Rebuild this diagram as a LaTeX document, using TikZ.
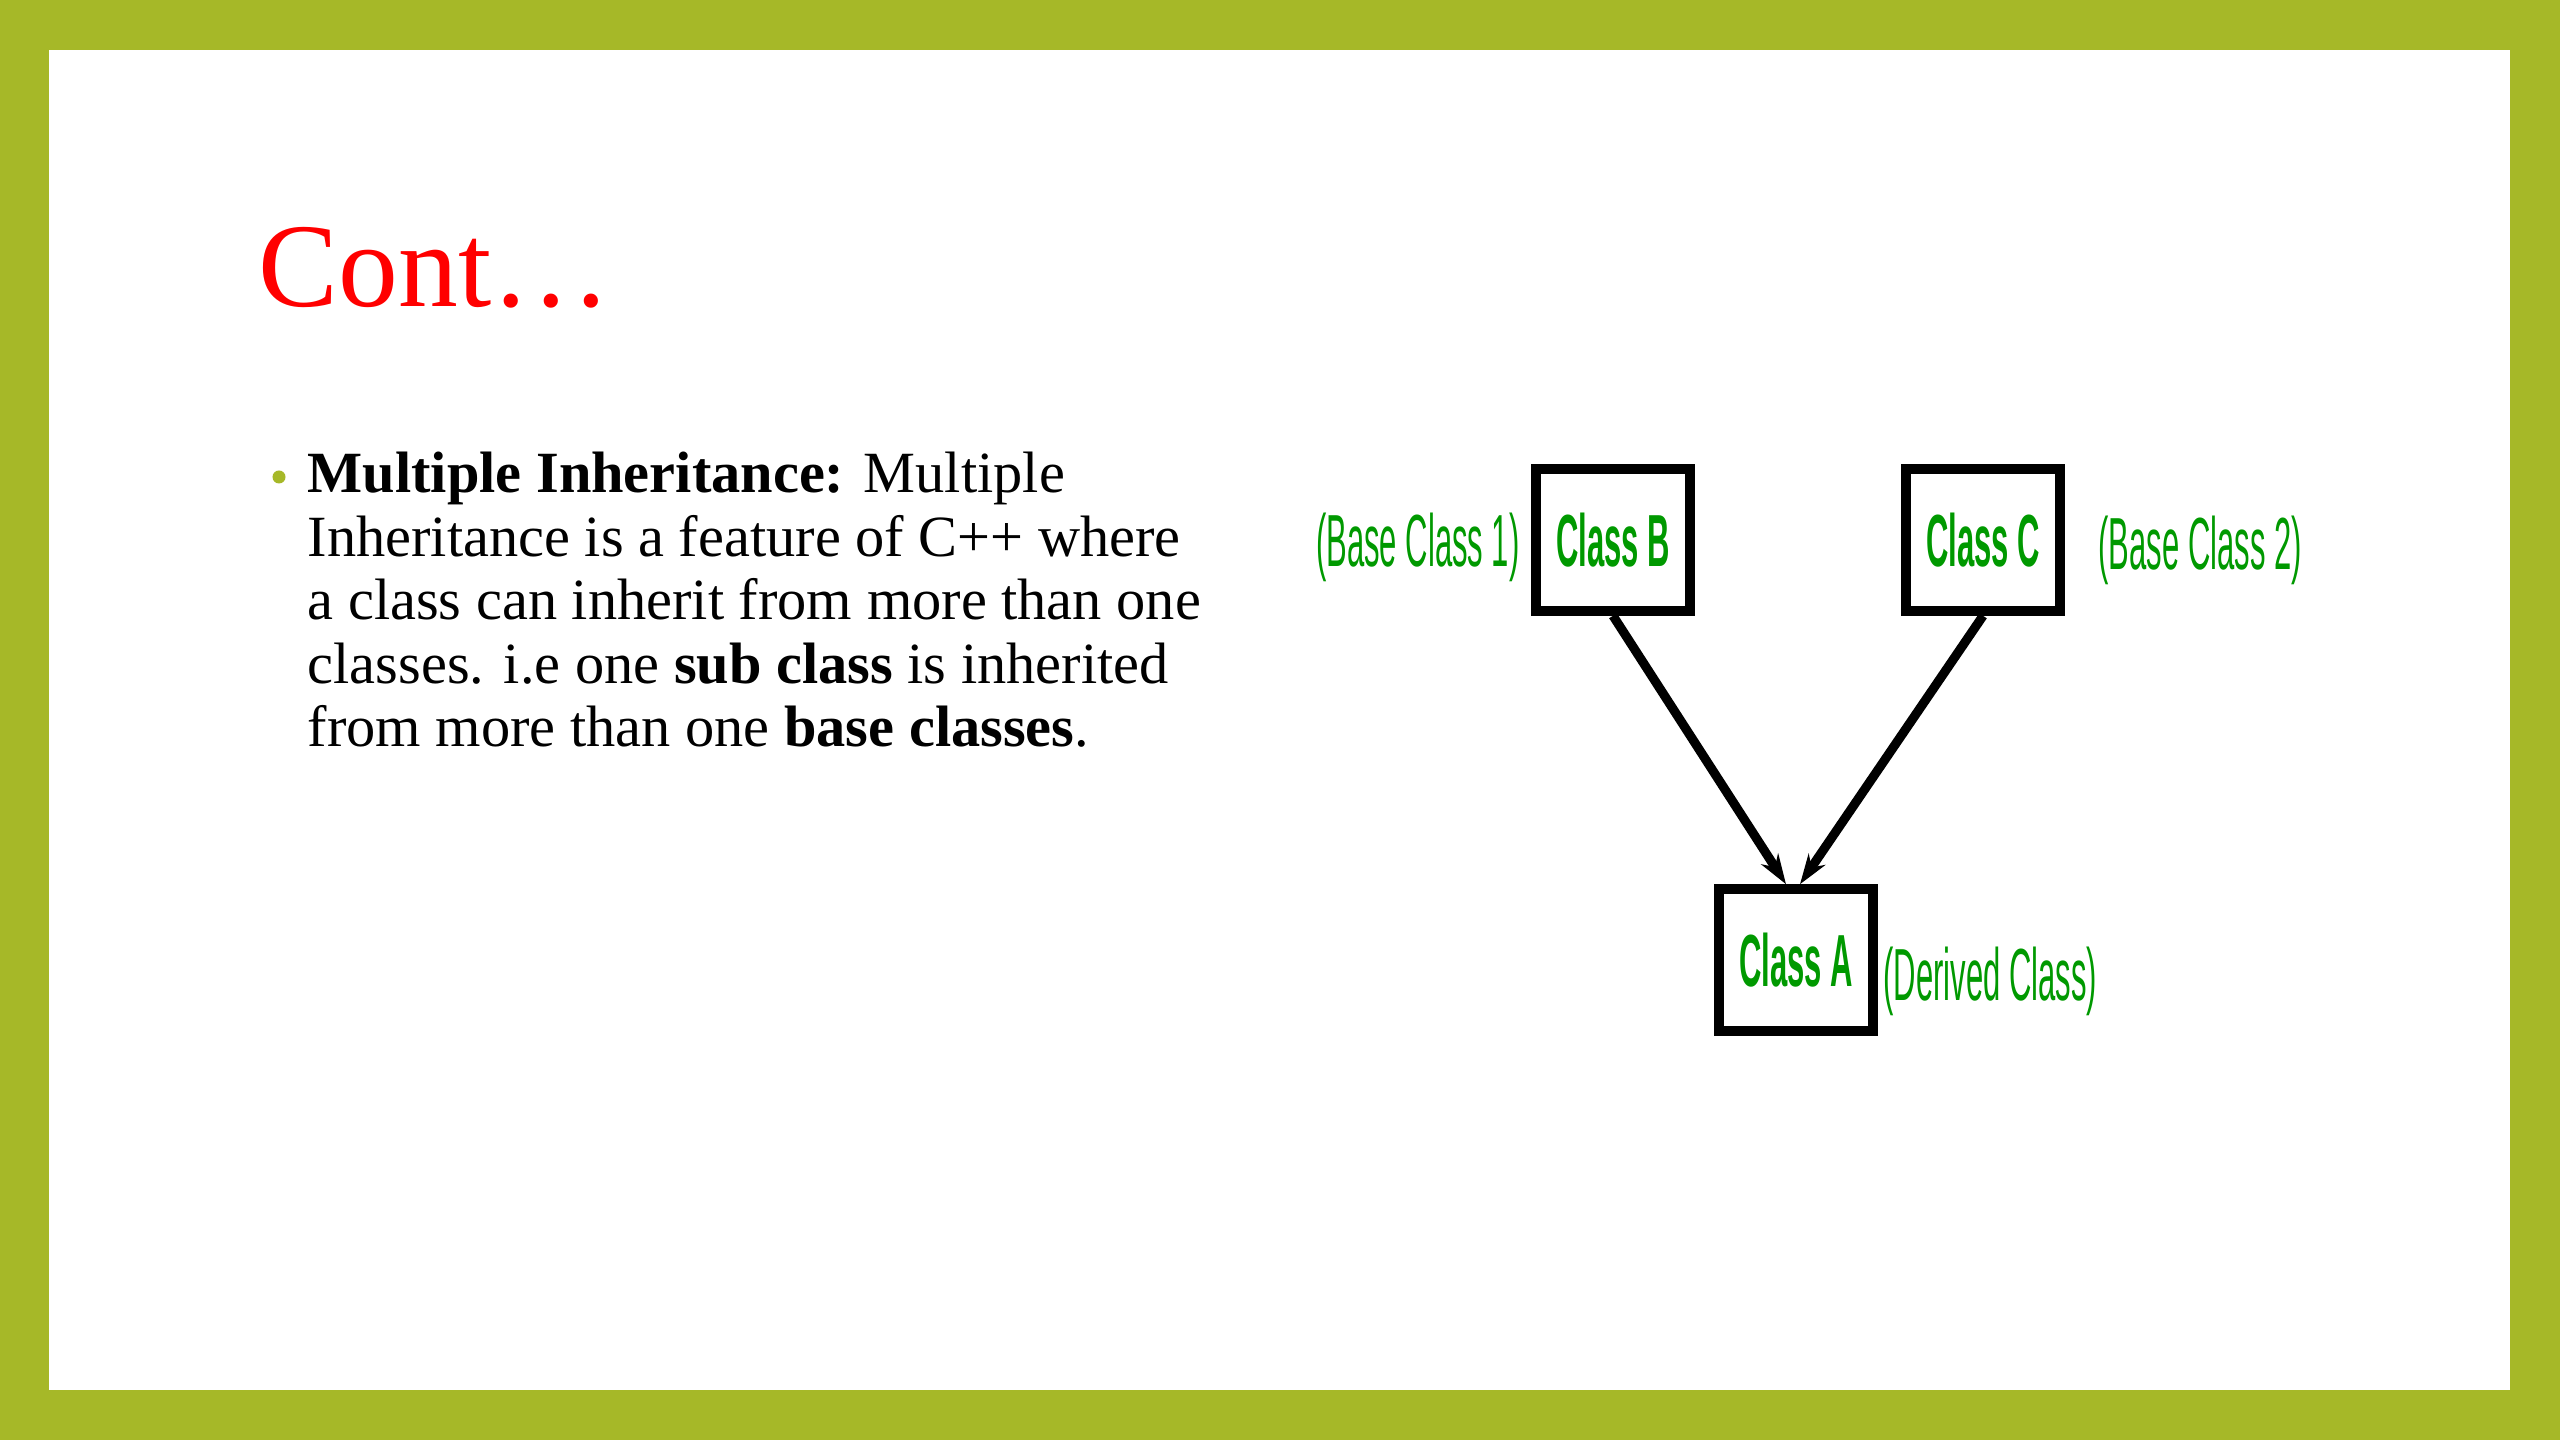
\documentclass[tikz,border=0pt]{standalone}
\usepackage{fontspec}
\setmainfont{Liberation Serif}
\newfontfamily\narrowsans[FakeStretch=0.42]{Liberation Sans}
\usetikzlibrary{arrows.meta, positioning}
\definecolor{cFrame}{RGB}{166,184,40}
\definecolor{cTitle}{RGB}{255,0,0}
\definecolor{cLabel}{RGB}{0,153,0}
\tikzset{
  classbox/.style={rectangle, draw=black, line width=2.7pt, fill=white,
                   minimum width=1.54cm, minimum height=1.42cm, inner sep=0pt,
                   font=\narrowsans\fontsize{21}{21}\selectfont\bfseries, text=cLabel},
  rolelabel/.style={font=\narrowsans\fontsize{21}{21}\selectfont, text=cLabel,
                    inner sep=0pt},
  inherit/.style={-{Stealth[length=0.3cm, width=0.2cm]}, line width=2.6pt, black}
}

\begin{document}
\begin{tikzpicture}[x=0.01cm, y=-0.01cm]

  % Frame
  \useasboundingbox (0,0) rectangle (2560,1440);
  \fill[cFrame] (0,0) rectangle (2560,1440);
  \fill[white] (49,50) rectangle (2510,1390);

  % Title
  \node[anchor=base west, text=cTitle, inner sep=0pt,
        font=\fontsize{34}{34}\selectfont] (title) at (258,307) {Cont…};

  % Bullet text
  \node[circle, fill=cFrame, minimum size=0.13cm, inner sep=0pt] (dot) at (279,477) {};
  \node[anchor=base west, align=left, inner sep=0pt,
        font=\fontsize{16.6}{18.1}\selectfont] (txt) at (307,747)
      {\textbf{Multiple Inheritance:} Multiple\\
       Inheritance is a feature of C++ where\\
       a class can inherit from more than one\\
       classes. i.e one \textbf{sub class} is inherited\\
       from more than one \textbf{base classes}.};

  % Classes
  \node[classbox] (B) at (1613,540) {Class B};
  \node[classbox] (C) at (1983,540) {Class C};
  \node[classbox] (A) at (1796,960) {Class A};

  \node[rolelabel, left=0.11cm of B, yshift=-0.07cm] (base1) {(Base Class 1)};
  \node[rolelabel, right=0.33cm of C, yshift=-0.1cm] (base2) {(Base Class 2)};
  \node[rolelabel, right=0.05cm of A, yshift=-0.21cm] (derived) {(Derived Class)};

  % Arrows
  \draw[inherit] (B.south) -- ([xshift=-0.1cm]A.north);
  \draw[inherit] (C.south) -- ([xshift=0.04cm]A.north);

\end{tikzpicture}
\end{document}
